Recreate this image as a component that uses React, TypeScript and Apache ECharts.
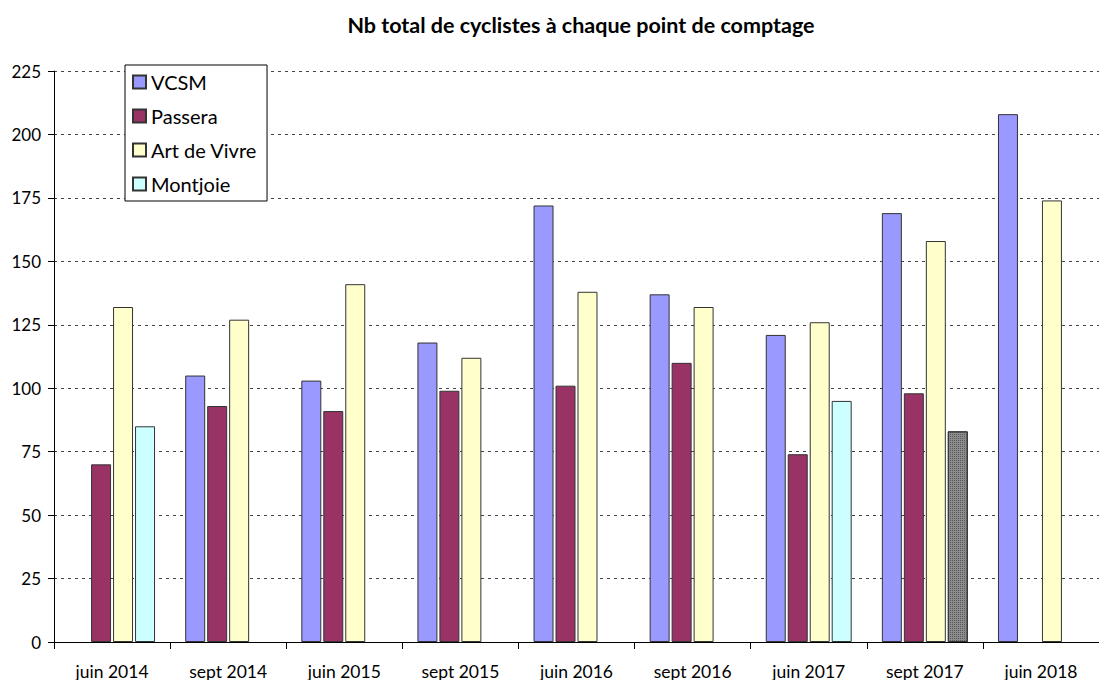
import React, { useEffect, useRef } from "react";
import * as echarts from "echarts";

const categories = ["juin 2014", "sept 2014", "juin 2015", "sept 2015", "juin 2016", "sept 2016", "juin 2017", "sept 2017", "juin 2018"];
const vcsm = ["-", 105, 103, 118, 172, 137, 121, 169, 208];
const passera = [70, 93, 91, 99, 101, 110, 74, 98, "-"];
const artDeVivre = [132, 127, 141, 112, 138, 132, 126, 158, 174];
const montjoie = [85, "-", "-", "-", "-", "-", 95, 83, "-"];
const hatchedIndex = 7;
const yTicks = [0, 25, 50, 75, 100, 125, 150, 175, 200, 225];

const FONT = "Lato, 'Open Sans', sans-serif";

export default function App() {
  const ref = useRef<HTMLDivElement>(null);
  useEffect(() => {
    if (!ref.current) return;
    const chart = echarts.init(ref.current, null, { renderer: "svg" });
    const border = { borderColor: "#333", borderWidth: 1 };
    chart.setOption({
      animation: false,
      backgroundColor: "#fff",
      textStyle: { fontFamily: FONT },
      title: {
        text: "Nb total de cyclistes à chaque point de comptage",
        left: 576,
        textAlign: "center",
        top: 9,
        textStyle: { fontFamily: FONT, fontSize: 21.5, fontWeight: "bold", color: "#000" },
      },
      legend: {
        orient: "vertical",
        left: 125,
        top: 65,
        padding: [7, 10, 7, 7],
        itemGap: 14,
        itemWidth: 13,
        itemHeight: 13,
        borderColor: "#000",
        borderWidth: 1,
        backgroundColor: "#fff",
        icon: "rect",
        textStyle: { fontFamily: FONT, fontSize: 20, lineHeight: 20, color: "#000", padding: [0, 0, 0, 0] },
        data: ["VCSM", "Passera", "Art de Vivre", "Montjoie"],
      },
      grid: { left: 54, right: -6, top: 71, bottom: 37, containLabel: false },
      xAxis: {
        type: "category",
        data: categories,
        axisLine: { lineStyle: { color: "#000", width: 1 } },
        axisTick: { show: true, length: 7, lineStyle: { color: "#000" } },
        axisLabel: { fontFamily: FONT, fontSize: 17.5, color: "#000", margin: 20 },
      },
      yAxis: {
        type: "value",
        min: 0,
        max: 225,
        interval: 25,
        axisLine: { show: true, lineStyle: { color: "#000", width: 1 } },
        axisTick: { show: true, length: 6, lineStyle: { color: "#000" } },
        axisLabel: { fontFamily: FONT, fontSize: 17, color: "#000", margin: 13, formatter: (v: number) => (yTicks.includes(v) ? String(v) : "") },
        splitLine: { show: true, lineStyle: { color: "#444", type: [3, 4], width: 1 } },
      },
      series: [
        { name: "VCSM", type: "bar", data: vcsm, itemStyle: { color: "#9999ff", ...border }, barGap: "10%", barCategoryGap: "26%" },
        { name: "Passera", type: "bar", data: passera, itemStyle: { color: "#993366", ...border } },
        { name: "Art de Vivre", type: "bar", data: artDeVivre, itemStyle: { color: "#ffffcc", ...border } },
        {
          name: "Montjoie",
          type: "bar",
          itemStyle: { color: "#ccffff", ...border },
          data: montjoie.map((v, i) =>
            i === hatchedIndex
              ? {
                  value: v,
                  itemStyle: {
                    color: "#8c8c8c",
                    borderColor: "#333",
                    decal: { symbol: "rect", symbolSize: 1, dashArrayX: [1, 1], dashArrayY: [1, 1], color: "#5a5a5a", rotation: 0 },
                  },
                }
              : v
          ),
        },
      ],
    });
    return () => chart.dispose();
  }, []);
  return <div ref={ref} style={{ width: 1099, height: 680, position: "absolute", left: 0, top: 0 }} />;
}
